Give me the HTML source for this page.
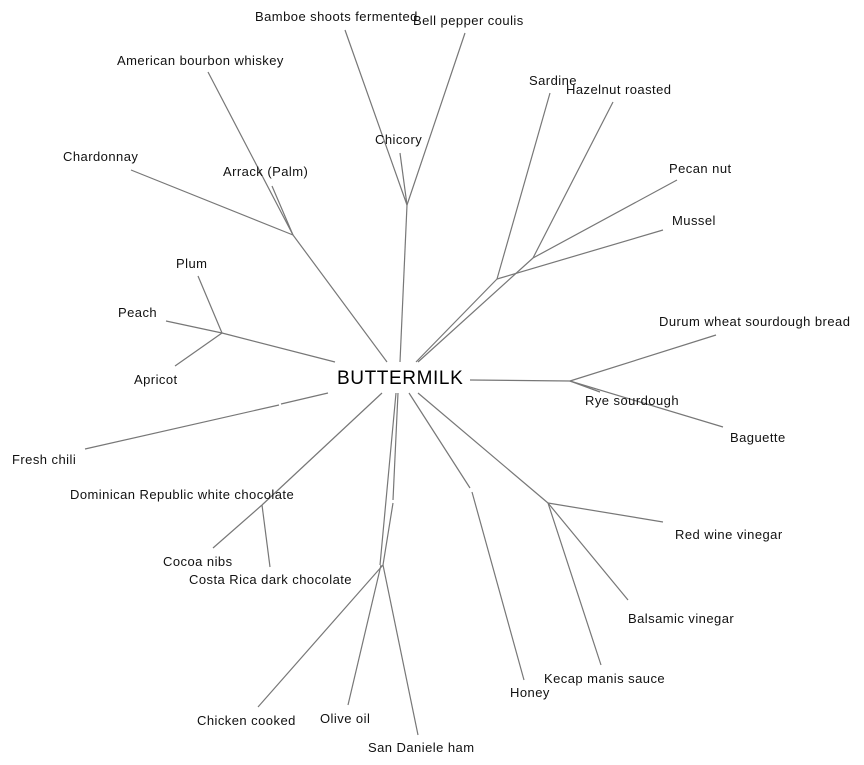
<!DOCTYPE html>
<html><head><meta charset="utf-8"><style>
html,body{margin:0;padding:0;background:#fff;}
svg{display:block;}
text{font-family:"Liberation Sans",Arial,sans-serif;font-size:13px;fill:#111;letter-spacing:0.45px;}
line,polyline{stroke:#777;stroke-width:1.2;fill:none;}
</style></head><body>
<svg width="864" height="765" viewBox="0 0 864 765" xmlns="http://www.w3.org/2000/svg">
<line x1="387" y1="362" x2="293" y2="235"/>
<line x1="293" y1="235" x2="208" y2="72"/>
<line x1="293" y1="235" x2="272" y2="186"/>
<line x1="293" y1="235" x2="131" y2="170"/>
<line x1="400" y1="362" x2="407" y2="205"/>
<line x1="407" y1="205" x2="345" y2="30"/>
<line x1="407" y1="205" x2="465" y2="33"/>
<line x1="407" y1="205" x2="400" y2="153"/>
<line x1="416" y1="362" x2="497" y2="279"/>
<line x1="497" y1="279" x2="550" y2="93"/>
<line x1="497" y1="279" x2="663" y2="230"/>
<line x1="418" y1="362" x2="533" y2="258"/>
<line x1="533" y1="258" x2="613" y2="102"/>
<line x1="533" y1="258" x2="677" y2="180"/>
<line x1="335" y1="362" x2="222" y2="333"/>
<line x1="222" y1="333" x2="198" y2="276"/>
<line x1="222" y1="333" x2="166" y2="321"/>
<line x1="222" y1="333" x2="175" y2="366"/>
<line x1="328" y1="393" x2="281" y2="404"/>
<line x1="279" y1="405" x2="85" y2="449"/>
<line x1="382" y1="393" x2="262" y2="505"/>
<line x1="262" y1="505" x2="213" y2="548"/>
<line x1="262" y1="505" x2="270" y2="567"/>
<line x1="398" y1="393" x2="393" y2="500"/>
<line x1="396" y1="393" x2="380" y2="565"/>
<line x1="393" y1="503" x2="383" y2="565"/>
<line x1="383" y1="565" x2="258" y2="707"/>
<line x1="381" y1="565" x2="348" y2="705"/>
<line x1="383" y1="565" x2="418" y2="735"/>
<line x1="409" y1="393" x2="470" y2="488"/>
<line x1="472" y1="492" x2="524" y2="680"/>
<line x1="418" y1="393" x2="548" y2="503"/>
<line x1="548" y1="503" x2="663" y2="522"/>
<line x1="548" y1="503" x2="628" y2="600"/>
<line x1="548" y1="503" x2="601" y2="665"/>
<line x1="470" y1="380" x2="570" y2="381"/>
<line x1="570" y1="381" x2="716" y2="335"/>
<line x1="570" y1="381" x2="723" y2="427"/>
<line x1="570" y1="381" x2="600" y2="392"/>

<text x="337" y="384" style="font-size:19px;fill:#000;letter-spacing:0.6px">BUTTERMILK</text>
<text x="255" y="21">Bamboe shoots fermented</text>
<text x="413" y="25">Bell pepper coulis</text>
<text x="117" y="65">American bourbon whiskey</text>
<text x="529" y="85">Sardine</text>
<text x="566" y="94">Hazelnut roasted</text>
<text x="375" y="144">Chicory</text>
<text x="63" y="161">Chardonnay</text>
<text x="223" y="176">Arrack (Palm)</text>
<text x="669" y="173">Pecan nut</text>
<text x="672" y="225">Mussel</text>
<text x="176" y="268">Plum</text>
<text x="118" y="317">Peach</text>
<text x="659" y="326">Durum wheat sourdough bread</text>
<text x="134" y="384">Apricot</text>
<text x="585" y="405">Rye sourdough</text>
<text x="730" y="442">Baguette</text>
<text x="12" y="464">Fresh chili</text>
<text x="70" y="499">Dominican Republic white chocolate</text>
<text x="675" y="539">Red wine vinegar</text>
<text x="163" y="566">Cocoa nibs</text>
<text x="189" y="584">Costa Rica dark chocolate</text>
<text x="628" y="623">Balsamic vinegar</text>
<text x="544" y="683">Kecap manis sauce</text>
<text x="510" y="697">Honey</text>
<text x="197" y="725">Chicken cooked</text>
<text x="320" y="723">Olive oil</text>
<text x="368" y="752">San Daniele ham</text>
</svg>
</body></html>
